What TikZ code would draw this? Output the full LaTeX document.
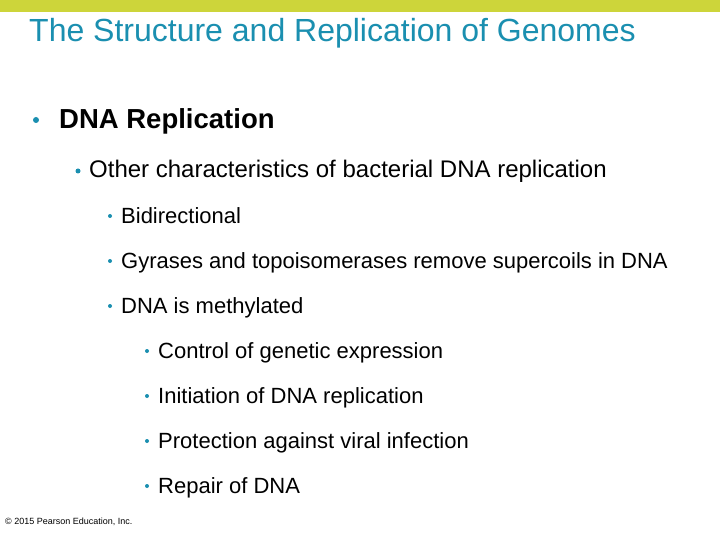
\documentclass[tikz,border=0pt]{standalone}
\usepackage{fontspec}
\setmainfont{Liberation Sans}
\definecolor{bar}{HTML}{CDD53A}
\definecolor{ttl}{HTML}{1A8FB0}
\begin{document}
\begin{tikzpicture}[x=1pt,y=-1pt,
  txt/.style={anchor=base west,inner sep=0pt,text=black},
  dot/.style={circle,fill=ttl,inner sep=0pt}]
\useasboundingbox (0,0) rectangle (720,540);
\fill[white] (0,0) rectangle (720,540);
\fill[bar] (0,0) rectangle (720,12);
\node[txt,text=ttl,font=\fontsize{32}{36}\selectfont] (title) at (29,42) {The Structure and Replication of Genomes};
\node[txt,font=\fontsize{27.5}{32}\selectfont\bfseries] (l1) at (59,129) {DNA Replication};
\node[dot,minimum size=6] (d1) at (36,120) {};
\node[txt,font=\fontsize{24}{28}\selectfont] (l2) at (89,178) {Other characteristics of bacterial DNA replication};
\node[dot,minimum size=5] (d2) at (78,171) {};
\foreach \t/\y [count=\i] in {Bidirectional/223,Gyrases and topoisomerases remove supercoils in DNA/268,DNA is methylated/313}{
  \node[txt,font=\fontsize{22}{26}\selectfont] (a\i) at (121,\y) {\t};
  \node[dot,minimum size=4] (ad\i) at (110,\y-7) {};
}
\foreach \t/\y [count=\i] in {Control of genetic expression/358,Initiation of DNA replication/403,Protection against viral infection/448,Repair of DNA/493}{
  \node[txt,font=\fontsize{22}{26}\selectfont] (b\i) at (158,\y) {\t};
  \node[dot,minimum size=4] (bd\i) at (147,\y-7) {};
}
\node[txt,font=\fontsize{9}{11}\selectfont] (foot) at (5,524) {© 2015 Pearson Education, Inc.};
\end{tikzpicture}
\end{document}
